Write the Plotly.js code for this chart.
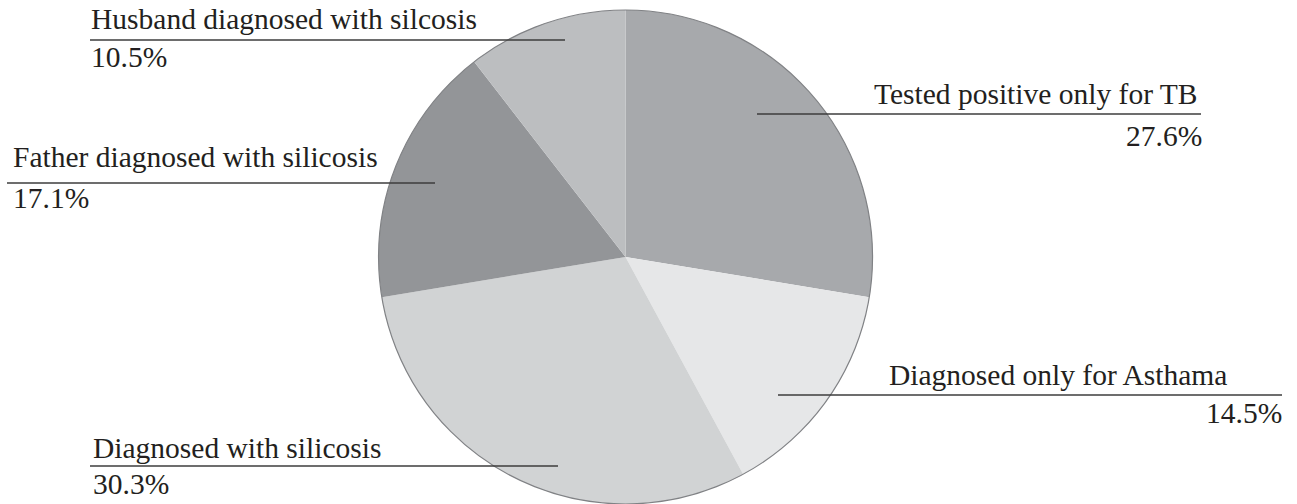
<!DOCTYPE html>
<html>
<head>
<meta charset="utf-8">
<script src="https://cdn.plot.ly/plotly-3.0.1.min.js"></script>
<style>
  html, body { margin: 0; padding: 0; background: #ffffff; }
  #chart { width: 1297px; height: 504px; }
</style>
</head>
<body>
<div id="chart"></div>
<script>
// Categories and shares (percent), clockwise from 12 o'clock
const categories = [
  'Tested positive only for TB',
  'Diagnosed only for Asthama',
  'Diagnosed with silicosis',
  'Father diagnosed with silicosis',
  'Husband diagnosed with silcosis'
];
const shares = [27.6, 14.5, 30.3, 17.1, 10.5];
const sliceColors = ['#a7a9ac', '#e6e7e8', '#d1d3d4', '#939598', '#bcbec0'];

// Callout placement in pixels: leader line, label baseline, percent top
const callouts = [
  { align: 'right', x0: 757, x1: 1201, lineY: 114, textX: 1200, base: 104, pctX: 1204, pctTop: 126 },
  { align: 'right', x0: 778, x1: 1282, lineY: 395, textX: 1229, base: 385, pctX: 1284, pctTop: 403 },
  { align: 'left',  x0: 90,  x1: 558,  lineY: 466, textX: 91,   base: 458, pctX: 91,   pctTop: 474 },
  { align: 'left',  x0: 7,   x1: 435,  lineY: 183, textX: 11,   base: 167, pctX: 11,   pctTop: 188 },
  { align: 'left',  x0: 90,  x1: 565,  lineY: 40,  textX: 89,   base: 29,  pctX: 89,   pctTop: 47 }
];

const W = 1297, H = 504;
const FONT = 'Liberation Serif';
const FS = 29.5;
const ASC = 0.891, DESC = 0.216, CAP = 0.662;
const px = x => x / W;
const py = y => 1 - y / H;

const pieDomain = { x: [0.2, 0.7646], y: [0, 494 / 504] };

const traces = [
  {
    type: 'pie',
    values: shares,
    labels: categories,
    sort: false,
    direction: 'clockwise',
    rotation: 0,
    textinfo: 'none',
    hoverinfo: 'skip',
    showlegend: false,
    marker: { colors: sliceColors, line: { width: 0 } },
    domain: pieDomain
  },
  {
    // rim outline drawn as a single full slice
    type: 'pie',
    values: [1],
    labels: ['rim'],
    textinfo: 'none',
    hoverinfo: 'skip',
    showlegend: false,
    marker: { colors: ['rgba(0,0,0,0)'], line: { color: '#808285', width: 1.2 } },
    domain: pieDomain
  }
];

const shapes = [];
const annotations = [];
const mid = (ASC - DESC) / 2;
callouts.forEach((c, i) => {
  shapes.push({
    type: 'line', xref: 'paper', yref: 'paper',
    x0: px(c.x0), x1: px(c.x1), y0: py(c.lineY), y1: py(c.lineY),
    line: { color: '#3c3c3c', width: 1.6 }
  });
  annotations.push({
    xref: 'paper', yref: 'paper', showarrow: false,
    x: px(c.textX), y: py(c.base - mid * FS),
    xanchor: c.align, yanchor: 'middle',
    text: categories[i],
    font: { family: FONT, size: FS, color: '#231f20' }
  });
  annotations.push({
    xref: 'paper', yref: 'paper', showarrow: false,
    x: px(c.pctX), y: py(c.pctTop + CAP * FS - mid * FS),
    xanchor: c.align, yanchor: 'middle',
    text: shares[i].toFixed(1) + '%',
    font: { family: FONT, size: FS, color: '#231f20' }
  });
});

const layout = {
  width: W, height: H,
  margin: { l: 0, r: 0, t: 0, b: 0 },
  paper_bgcolor: '#ffffff',
  plot_bgcolor: '#ffffff',
  showlegend: false,
  shapes: shapes,
  annotations: annotations
};

Plotly.newPlot('chart', traces, layout, { displayModeBar: false, staticPlot: true });
</script>
</body>
</html>
